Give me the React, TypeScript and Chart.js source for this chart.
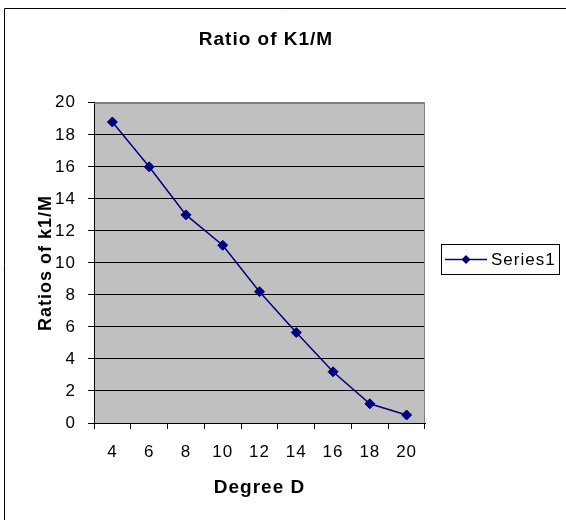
import React, { useEffect, useRef } from "react";
import { Chart, registerables } from "chart.js";

Chart.register(...registerables);

const chartTitle = "Ratio of K1/M";
const xAxisTitle = "Degree D";
const yAxisTitle = "Ratios of k1/M";
const seriesName = "Series1";
const degrees = ["4", "6", "8", "10", "12", "14", "16", "18", "20"];
const ratios = [18.8, 16, 13, 11.1, 8.2, 5.65, 3.2, 1.2, 0.5];
const yMin = 0;
const yMax = 20;
const yStep = 2;

const NAVY = "#000080";
const FONT = "'Liberation Sans', Arial, sans-serif";

const decorPlugin = {
  id: "decor",
  beforeDraw(chart: any) {
    const { ctx, chartArea } = chart;
    try {
      ctx.letterSpacing = "1px";
    } catch (e) {}
    ctx.save();
    ctx.fillStyle = "#ffffff";
    ctx.fillRect(0, 0, chart.width, chart.height);
    ctx.fillStyle = "#C0C0C0";
    ctx.fillRect(chartArea.left, chartArea.top, chartArea.right - chartArea.left, chartArea.bottom - chartArea.top);
    // outer frame (top and left visible)
    ctx.strokeStyle = "#000000";
    ctx.lineWidth = 1;
    ctx.beginPath();
    ctx.moveTo(4.5, chart.height + 2);
    ctx.lineTo(4.5, 8.5);
    ctx.lineTo(chart.width + 2, 8.5);
    ctx.stroke();
    ctx.restore();
  },
  beforeDatasetsDraw(chart: any) {
    const { ctx, chartArea } = chart;
    ctx.save();
    ctx.strokeStyle = "#808080";
    ctx.lineWidth = 1;
    const r = Math.round(chartArea.right) - 0.5;
    const t = Math.round(chartArea.top) + 0.5;
    ctx.beginPath();
    ctx.moveTo(chartArea.left, t);
    ctx.lineTo(r, t);
    ctx.lineTo(r, chartArea.bottom);
    ctx.stroke();
    ctx.restore();
  },
  afterDraw(chart: any) {
    const { ctx } = chart;
    ctx.save();
    // legend box
    const bx = 441.5, by = 244.5, bw = 118, bh = 30;
    ctx.fillStyle = "#ffffff";
    ctx.fillRect(bx, by, bw, bh);
    ctx.strokeStyle = "#000000";
    ctx.lineWidth = 1;
    ctx.strokeRect(bx, by, bw, bh);
    const cy = by + bh / 2;
    ctx.strokeStyle = NAVY;
    ctx.lineWidth = 1.5;
    ctx.beginPath();
    ctx.moveTo(445, cy);
    ctx.lineTo(487, cy);
    ctx.stroke();
    ctx.fillStyle = NAVY;
    const dx = 466, r = 4.5;
    ctx.beginPath();
    ctx.moveTo(dx, cy - r);
    ctx.lineTo(dx + r, cy);
    ctx.lineTo(dx, cy + r);
    ctx.lineTo(dx - r, cy);
    ctx.closePath();
    ctx.fill();
    ctx.fillStyle = "#000000";
    ctx.font = `17px ${FONT}`;
    ctx.textBaseline = "middle";
    ctx.textAlign = "left";
    ctx.fillText(seriesName, 491, cy + 1);
    ctx.restore();
  },
};

export default function App() {
  const ref = useRef<HTMLCanvasElement>(null);

  useEffect(() => {
    if (!ref.current) return;
    const chart = new Chart(ref.current, {
      type: "line",
      data: {
        labels: degrees,
        datasets: [
          {
            label: seriesName,
            data: ratios,
            borderColor: NAVY,
            backgroundColor: NAVY,
            borderWidth: 1.5,
            pointStyle: "rectRot",
            pointRadius: 5,
            pointBackgroundColor: NAVY,
            pointBorderColor: NAVY,
            pointBorderWidth: 1,
            tension: 0,
            yAxisID: "y",
          },
        ],
      },
      options: {
        animation: false,
        responsive: false,
        maintainAspectRatio: false,
        layout: { padding: { left: 0, right: 34, top: 0, bottom: 0 } },
        plugins: {
          legend: { display: false },
          tooltip: { enabled: false },
          title: {
            display: true,
            text: chartTitle,
            color: "#000000",
            font: { family: FONT, size: 19, weight: "bold" },
            padding: { top: 28, bottom: 52 },
            fullSize: true,
          },
        },
        scales: {
          x: {
            type: "category",
            offset: true,
            grid: {
              offset: true,
              drawOnChartArea: false,
              drawTicks: true,
              tickLength: 6,
              color: "#000000",
            },
            border: { display: true, color: "#000000", width: 1 },
            ticks: {
              color: "#000000",
              font: { family: FONT, size: 17 },
              padding: 13,
              maxRotation: 0,
              autoSkip: false,
            },
            title: {
              display: true,
              text: xAxisTitle,
              color: "#000000",
              font: { family: FONT, size: 19, weight: "bold" },
              padding: { top: 0, bottom: 21 },
            },
            afterFit(scale: any) {
              scale.height = 97;
            },
          },
          y: {
            type: "linear",
            position: "left",
            min: yMin,
            max: yMax,
            grid: {
              color: (c: any) => (c.tick && c.tick.value === yMax ? "#808080" : "#000000"),
              tickLength: 6,
              drawTicks: true,
              tickColor: "#000000",
            },
            border: { display: true, color: "#000000", width: 1 },
            ticks: {
              stepSize: yStep,
              color: "#000000",
              font: { family: FONT, size: 17 },
              padding: 12,
            },
            title: {
              display: true,
              text: yAxisTitle,
              color: "#000000",
              font: { family: FONT, size: 18, weight: "bold" },
              padding: { top: 35, bottom: 0 },
            },
            afterFit(scale: any) {
              scale.width = 94;
            },
          },
          yRight: {
            type: "linear",
            position: "right",
            display: true,
            grid: { display: false, drawTicks: false },
            border: { display: false },
            ticks: { display: false },
            afterFit(scale: any) {
              scale.width = 107;
            },
          },
        },
      },
      plugins: [decorPlugin],
    });
    return () => chart.destroy();
  }, []);

  return (
    <div style={{ position: "fixed", left: 0, top: 0, width: 566, height: 520, background: "#ffffff" }}>
      <canvas ref={ref} width={566} height={520} />
    </div>
  );
}
